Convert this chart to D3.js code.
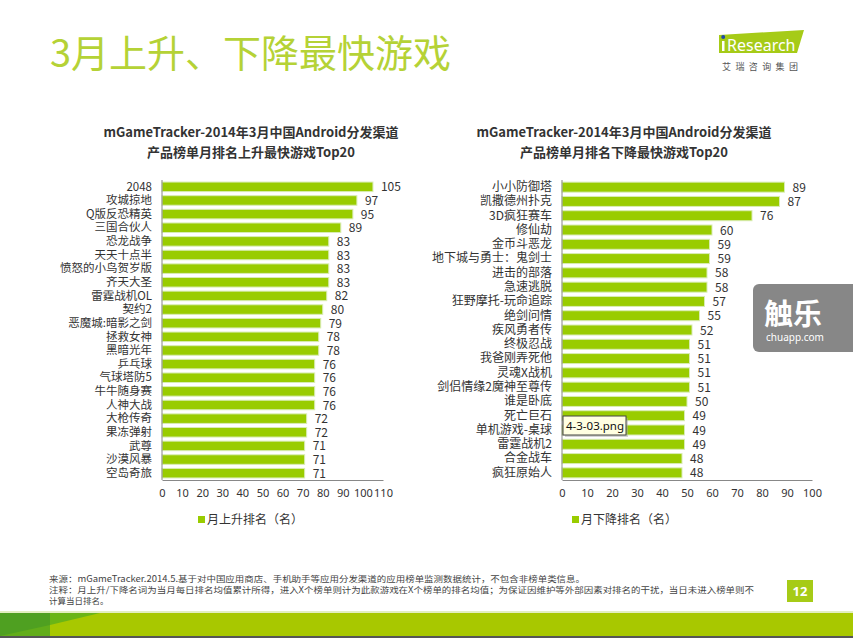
<!DOCTYPE html>
<html><head><meta charset="utf-8">
<script src="https://cdn.jsdelivr.net/npm/d3@7"></script>
<style>
body{margin:0;background:#fff;}
svg{display:block;font-family:"Noto Sans CJK SC","Noto Sans",sans-serif;}
</style></head>
<body>
<script>
const upCategories=["2048","攻城掠地","Q版反恐精英","三国合伙人","恐龙战争","天天十点半","愤怒的小鸟贺岁版","齐天大圣","雷霆战机OL","契约2","恶魔城:暗影之剑","拯救女神","黑暗光年","乒乓球","气球塔防5","牛牛随身赛","人神大战","大枪传奇","果冻弹射","武尊","沙漠风暴","空岛奇旅"];
const upValues=[105,97,95,89,83,83,83,83,82,80,79,78,78,76,76,76,76,72,72,71,71,71];
const upTicks=[0,10,20,30,40,50,60,70,80,90,100,110];
const downCategories=["小小防御塔","凯撒德州扑克","3D疯狂赛车","修仙劫","金币斗恶龙","地下城与勇士：鬼剑士","进击的部落","急速逃脱","狂野摩托-玩命追踪","绝剑问情","疾风勇者传","终极忍战","我爸刚弄死他","灵魂X战机","剑侣情缘2魔神至尊传","谁是卧底","死亡巨石","单机游戏-桌球","雷霆战机2","合金战车","疯狂原始人"];
const downValues=[89,87,76,60,59,59,58,58,57,55,52,51,51,51,51,50,49,49,49,48,48];
const downTicks=[0,10,20,30,40,50,60,70,80,90,100];

const W=853,H=638;
const svg=d3.select("body").append("svg").attr("width",W).attr("height",H);
const BAR="#99cc00",TXT="#333";

// main title
svg.append("text").attr("x",50).attr("y",67).attr("font-size",38).attr("fill","#b5d236").text("3月上升、下降最快游戏");

// iResearch logo
svg.append("path").attr("d","M719,35 L804,30 L797,53 L719,53 Z").attr("fill","#a6cb17");
svg.append("rect").attr("x",722).attr("y",41).attr("width",2.5).attr("height",10).attr("fill","#fff");
svg.append("circle").attr("cx",723.2).attr("cy",37).attr("r",2).attr("fill","#1f4aa8");
svg.append("text").attr("x",727).attr("y",51).attr("font-size",16).attr("fill","#fff").attr("font-family","Noto Sans,sans-serif").text("Research");
svg.append("text").attr("x",722).attr("y",70).attr("font-size",9).attr("fill","#555").attr("letter-spacing",4.4).text("艾瑞咨询集团");

function chart(cfg){
  const g=svg.append("g");
  const x=d3.scaleLinear().domain([0,cfg.max]).range([cfg.x0,cfg.x1]);
  const y=d3.scaleBand().domain(cfg.cats).range([cfg.yTop,cfg.yBot]).paddingInner(0.3).paddingOuter(0.15);
  cfg.title.forEach((t,i)=>g.append("text").attr("x",cfg.tx).attr("y",137+i*20).attr("text-anchor","middle")
    .attr("font-size",13).attr("font-weight","bold").attr("fill",TXT).text(t));
  g.selectAll("rect.bar").data(cfg.vals).join("rect").attr("class","bar")
    .attr("x",cfg.x0).attr("y",(d,i)=>y(cfg.cats[i]))
    .attr("width",d=>x(d)-cfg.x0).attr("height",y.bandwidth())
    .attr("fill",BAR).attr("stroke","#d9ecb4").attr("stroke-width",1);
  g.selectAll("text.val").data(cfg.vals).join("text").attr("class","val")
    .attr("x",d=>x(d)+8).attr("y",(d,i)=>y(cfg.cats[i])+y.bandwidth()/2+4.5)
    .attr("font-size",12).attr("fill",TXT).text(d=>d);
  const ya=g.append("g").attr("transform",`translate(${cfg.x0},0)`).call(d3.axisLeft(y).tickSize(0).tickPadding(10));
  ya.select(".domain").attr("stroke","#888").attr("d",`M0,${cfg.yTop}V${cfg.yBot}`);
  ya.selectAll("text").attr("font-size",cfg.catFont).attr("fill",TXT).attr("font-family","Noto Sans CJK SC,sans-serif");
  const xa=g.append("g").attr("transform",`translate(0,${cfg.yBot})`).call(d3.axisBottom(x).tickValues(cfg.ticks).tickSize(0).tickPadding(9));
  xa.select(".domain").attr("stroke","#888");
  xa.selectAll("text").attr("font-size",11).attr("fill",TXT).attr("font-family","Noto Sans,sans-serif");
  g.append("rect").attr("x",cfg.lx).attr("y",516).attr("width",7).attr("height",7).attr("fill",BAR);
  g.append("text").attr("x",cfg.lx+9).attr("y",524).attr("font-size",12).attr("fill",TXT).text(cfg.legend);
}
chart({cats:upCategories,vals:upValues,ticks:upTicks,max:110,x0:162,x1:383,yTop:180,yBot:480,tx:251,catFont:11.5,
  title:["mGameTracker-2014年3月中国Android分发渠道","产品榜单月排名上升最快游戏Top20"],legend:"月上升排名（名）",lx:198});
chart({cats:downCategories,vals:downValues,ticks:downTicks,max:100,x0:562,x1:812,yTop:180,yBot:480,tx:624,catFont:12,
  title:["mGameTracker-2014年3月中国Android分发渠道","产品榜单月排名下降最快游戏Top20"],legend:"月下降排名（名）",lx:572});

// tooltip
svg.append("rect").attr("x",565).attr("y",418).attr("width",63).attr("height",19).attr("fill","#aaa").attr("opacity",0.5);
svg.append("rect").attr("x",563).attr("y",416).attr("width",63).attr("height",19).attr("fill","#ffffe1").attr("stroke","#444");
svg.append("text").attr("x",566).attr("y",430).attr("font-size",11.5).attr("fill","#111").attr("font-family","Noto Sans,sans-serif").text("4-3-03.png");

// watermark
svg.append("rect").attr("x",753).attr("y",284).attr("width",110).attr("height",68).attr("rx",6).attr("fill","#7a7a7a").attr("opacity",0.9);
svg.append("text").attr("x",764).attr("y",325).attr("font-size",29).attr("font-weight","bold").attr("fill","#fff").text("触乐");
svg.append("text").attr("x",766).attr("y",341).attr("font-size",10).attr("fill","#fff").attr("font-family","Noto Sans,sans-serif").text("chuapp.com");

// footer notes
const notes=["来源：mGameTracker.2014.5.基于对中国应用商店、手机助手等应用分发渠道的应用榜单监测数据统计，不包含非榜单类信息。",
"注释：月上升/下降名词为当月每日排名均值累计所得，进入X个榜单则计为此款游戏在X个榜单的排名均值；为保证因维护等外部因素对排名的干扰，当日未进入榜单则不",
"计算当日排名。"];
const noteLens=[536,705,null];
notes.forEach((t,i)=>{const tx=svg.append("text").attr("x",49).attr("y",582+i*11).attr("font-size",8.5).attr("fill","#444").text(t);
  if(noteLens[i]) tx.attr("textLength",noteLens[i]).attr("lengthAdjust","spacingAndGlyphs");});
svg.append("rect").attr("x",787).attr("y",580).attr("width",26).attr("height",22).attr("fill","#a6cb17");
svg.append("text").attr("x",800).attr("y",596).attr("text-anchor","middle").attr("font-size",13).attr("font-weight","bold").attr("fill","#fff").attr("font-family","Noto Sans,sans-serif").text("12");

// bottom band
svg.append("rect").attr("x",0).attr("y",611).attr("width",W).attr("height",2).attr("fill","#e3eec0");
svg.append("rect").attr("x",0).attr("y",613).attr("width",W).attr("height",24).attr("fill","#a8c800");
svg.append("rect").attr("x",0).attr("y",613).attr("width",50).attr("height",24).attr("fill","#4fa021");
svg.append("path").attr("d","M50,613 L100,613 L50,625 Z").attr("fill","#6ab516");
svg.append("path").attr("d","M0,636 L50,625 L50,637 L0,637 Z").attr("fill","#62ad1a");
svg.append("rect").attr("x",0).attr("y",636).attr("width",W).attr("height",2).attr("fill","#555");
</script>
</body></html>
